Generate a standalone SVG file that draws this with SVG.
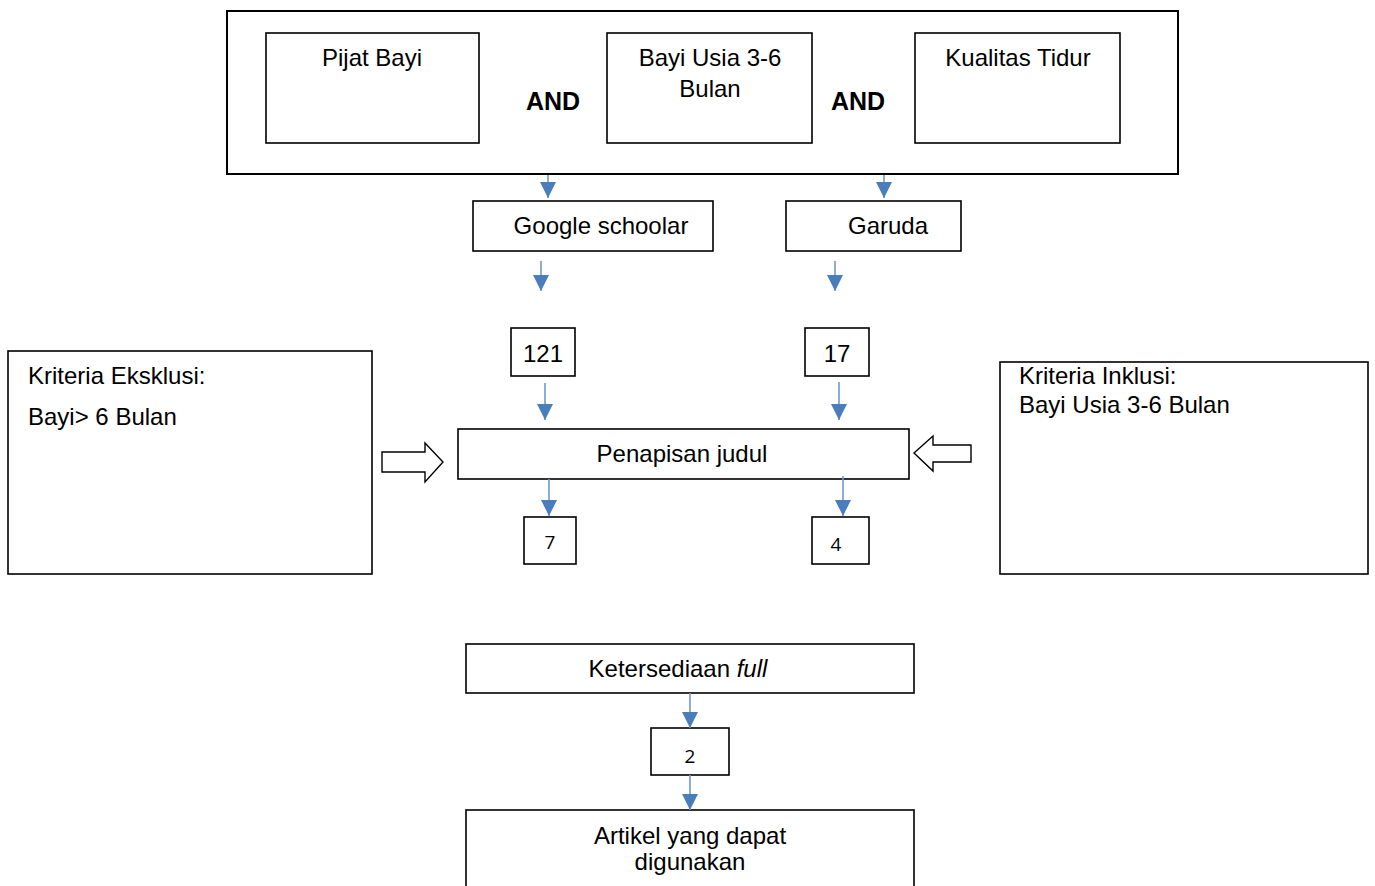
<svg xmlns="http://www.w3.org/2000/svg" width="1375" height="886" viewBox="0 0 1375 886">
<defs>
<marker id="ah" markerUnits="userSpaceOnUse" markerWidth="17" markerHeight="16" refX="16" refY="8" viewBox="0 0 17 16" orient="auto">
<path d="M0,0 L16,8 L0,16 Z" fill="#4a7ebb"/>
</marker>
</defs>
<style>
.box{fill:#fff;stroke:#000;stroke-width:1.6}
.t{font-family:"Liberation Sans",Arial,sans-serif;font-size:24px;fill:#000}
.c{text-anchor:middle}
.b{font-weight:bold;font-size:25px}
.n{font-family:"Open Sans","Noto Sans",sans-serif;font-size:19px;fill:#000;text-anchor:middle}
.con{stroke:#6f98cc;stroke-width:1.6;fill:none}
.blk{fill:#fff;stroke:#000;stroke-width:1.4}
</style>
<rect width="1375" height="886" fill="#fff"/>
<g id="search">
<rect class="box" x="227" y="11" width="951" height="163" style="stroke-width:2"/>
<text class="t c b" x="553" y="110">AND</text>
<text class="t c b" x="858" y="110">AND</text>
</g>
<g id="pijat"><rect class="box" x="266" y="33" width="213" height="110"/><text class="t c" x="372" y="66">Pijat Bayi</text></g>
<g id="usia"><rect class="box" x="607" y="33" width="205" height="110"/><text class="t c" x="710" y="66">Bayi Usia 3-6</text><text class="t c" x="710" y="97">Bulan</text></g>
<g id="tidur"><rect class="box" x="915" y="33" width="205" height="110"/><text class="t c" x="1018" y="66">Kualitas Tidur</text></g>
<g id="google"><rect class="box" x="473" y="201" width="240" height="50"/><text class="t c" x="601" y="234">Google schoolar</text></g>
<g id="garuda"><rect class="box" x="786" y="201" width="175" height="50"/><text class="t c" x="888" y="234">Garuda</text></g>
<g id="n121"><rect class="box" x="511" y="328" width="64" height="48"/><text class="t c" x="543" y="362">121</text></g>
<g id="n17"><rect class="box" x="805" y="328" width="64" height="48"/><text class="t c" x="837" y="362">17</text></g>
<g id="penapisan"><rect class="box" x="458" y="429" width="451" height="50"/><text class="t c" x="682" y="462">Penapisan judul</text></g>
<g id="n7"><rect class="box" x="524" y="517" width="52" height="47"/><text class="n" x="550" y="549">7</text></g>
<g id="n4"><rect class="box" x="812" y="517" width="57" height="47"/><text class="n" x="836" y="551">4</text></g>
<g id="eksklusi"><rect class="box" x="8" y="351" width="364" height="223"/><text class="t" x="28" y="384">Kriteria Eksklusi:</text><text class="t" x="28" y="425">Bayi&gt; 6 Bulan</text></g>
<g id="inklusi"><rect class="box" x="1000" y="362" width="368" height="212"/><text class="t" x="1019" y="384">Kriteria Inklusi:</text><text class="t" x="1019" y="413">Bayi Usia 3-6 Bulan</text></g>
<g id="ketersediaan"><rect class="box" x="466" y="644" width="448" height="49"/><text class="t c" x="678" y="677">Ketersediaan <tspan font-style="italic">full</tspan></text></g>
<g id="n2"><rect class="box" x="651" y="728" width="78" height="47"/><text class="n" x="690" y="763">2</text></g>
<g id="artikel"><rect class="box" x="466" y="810" width="448" height="90"/><text class="t c" x="690" y="844">Artikel yang dapat</text><text class="t c" x="690" y="870">digunakan</text></g>
<g id="connectors">
<line class="con" x1="548" y1="175" x2="548" y2="198" marker-end="url(#ah)"/>
<line class="con" x1="884" y1="175" x2="884" y2="198" marker-end="url(#ah)"/>
<line class="con" x1="541" y1="261" x2="541" y2="291" marker-end="url(#ah)"/>
<line class="con" x1="835" y1="261" x2="835" y2="291" marker-end="url(#ah)"/>
<line class="con" x1="545" y1="383" x2="545" y2="420" marker-end="url(#ah)"/>
<line class="con" x1="839" y1="382" x2="839" y2="420" marker-end="url(#ah)"/>
<line class="con" x1="549" y1="479" x2="549" y2="516" marker-end="url(#ah)"/>
<line class="con" x1="843" y1="476" x2="843" y2="516" marker-end="url(#ah)"/>
<line class="con" x1="690" y1="693" x2="690" y2="728" marker-end="url(#ah)"/>
<line class="con" x1="690" y1="775" x2="690" y2="810" marker-end="url(#ah)"/>
<polygon class="blk" points="382,452 425,452 425,443 443,462 425,482 425,472 382,472"/>
<polygon class="blk" points="971,445 933,445 933,436 914,453 933,471 933,462 971,462"/>
</g>
</svg>
